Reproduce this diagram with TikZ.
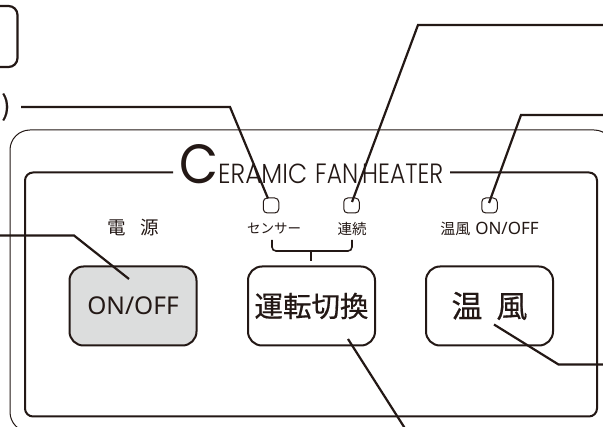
\documentclass[tikz,border=0pt]{standalone}
\usepackage{fontspec}
\usepackage{graphicx}
\setmainfont{Noto Sans}
\newfontfamily\jp{Noto Sans CJK JP}
\newfontfamily\jpb[FakeBold=0.6]{Noto Sans CJK JP}
\newfontfamily\ttl{Poppins Light}
\newfontfamily\ttlc{Poppins}
\definecolor{ink}{HTML}{231815}
\definecolor{btn}{HTML}{DCDDDD}
\tikzset{
  panelline/.style={draw=ink,line width=1pt},
  innerline/.style={draw=ink,line width=2pt,rounded corners=8pt},
  leader/.style={draw=ink,line width=2.2pt,line join=miter},
  btnbox/.style={draw=ink,line width=2pt,rounded corners=14pt,minimum width=127pt,minimum height=79pt,inner sep=0pt},
  led/.style={draw=ink,line width=1pt,rounded corners=4pt,minimum width=15.5pt,minimum height=15pt,inner sep=0pt},
  lbl/.style={text=ink,inner sep=0pt},
  ttlword/.style={text=ink,inner sep=0pt,anchor=west},
}
\begin{document}
\begin{tikzpicture}[x=1pt,y=-1pt]
\useasboundingbox (0,0) rectangle (603,427);
\clip (0,0) rectangle (603,427);
\fill[white] (0,0) rectangle (603,427);
% top-left box and cut-off text
\node[draw=ink,line width=2.2pt,rounded corners=9pt,minimum width=50pt,minimum height=61pt,inner sep=0pt] (topbox) at (-7.5,36.5) {};
\node[lbl,font=\jpb\fontsize{27}{27}\selectfont] (paren) at (6,107) {)};
% panel
\draw[panelline,rounded corners=20pt] (10,130) rectangle (614,432);
\coordinate (tl) at (173,172.5);
\coordinate (tr) at (450,172.5);
\draw[innerline] (tl) -- (25,172.5) -- (25,416.5) -- (597,416.5) -- (597,172.5) -- (tr);
% title
\node[ttlword] (titleC) at (179.5,164.5) {\resizebox{39pt}{39pt}{\ttlc C}};
\node[ttlword] (titleA) at (218,173.5) {\resizebox{89pt}{19.5pt}{\ttl ERAMIC}};
\node[ttlword] (titleB) at (315,173.5) {\resizebox{43pt}{19.5pt}{\ttl FAN}};
\node[ttlword] (titleD) at (362,173.5) {\resizebox{81pt}{19.5pt}{\ttl HEATER}};
% LEDs
\node[led] (led1) at (271,205.5) {};
\node[led] (led2) at (351.5,205.5) {};
\node[led] (led3) at (489.5,205.5) {};
% labels
\node[lbl,font=\jp\fontsize{18.5}{18.5}\selectfont] (den) at (133,228) {電\hspace{0.8em}源};
\node[lbl,font=\jp\fontsize{13.5}{13.5}\selectfont] (sen) at (274,229) {センサー};
\node[lbl,font=\jp\fontsize{14.5}{14.5}\selectfont] (ren) at (352,229) {連続};
\node[lbl] (onoff) at (489.5,229) {{\jp\fontsize{15}{15}\selectfont 温風}\hspace{5pt}{\fontsize{17}{17}\selectfont ON/OFF}};
% bracket
\coordinate (bl) at (272,240);
\coordinate (br) at (352,240);
\coordinate (bm) at (311,251);
\coordinate (bt) at (311,261);
\draw[draw=ink,line width=1.6pt,rounded corners=4pt] (bl) -- (272,251) -- (352,251) -- (br);
\draw[draw=ink,line width=1.6pt] (bm) -- (bt);
% buttons
\node[btnbox,fill=btn,text=ink,font=\fontsize{24.5}{24.5}\selectfont] (b1) at (133,306) {ON/OFF};
\node[btnbox,text=ink,font=\jpb\fontsize{28.5}{28.5}\selectfont] (b2) at (311.5,306) {運転切換};
\node[btnbox,text=ink,font=\jpb\fontsize{31}{31}\selectfont] (b3) at (489.5,306) {温\hspace{0.45em}風};
% leaders
\coordinate (a1) at (21,107);
\coordinate (a2) at (230,107);
\coordinate (a3) at (268,198.5);
\draw[leader] (a1) -- (a2) -- (a3);
\coordinate (c1) at (352,202);
\coordinate (c2) at (418,25);
\coordinate (c3) at (610,25);
\draw[leader] (c1) -- (c2) -- (c3);
\coordinate (d1) at (489,203);
\coordinate (d2) at (521,115);
\coordinate (d3) at (610,115);
\draw[leader] (d1) -- (d2) -- (d3);
\coordinate (e1) at (-5,235.5);
\coordinate (e2) at (74,235.5);
\coordinate (e3) at (129,279);
\draw[leader] (e1) -- (e2) -- (e3);
\coordinate (f1) at (348,339);
\coordinate (f2) at (406,430);
\draw[leader] (f1) -- (f2);
\coordinate (g1) at (494,324.5);
\coordinate (g2) at (558.5,364.5);
\coordinate (g3) at (610,364.5);
\draw[leader] (g1) -- (g2) -- (g3);
\end{tikzpicture}
\end{document}
